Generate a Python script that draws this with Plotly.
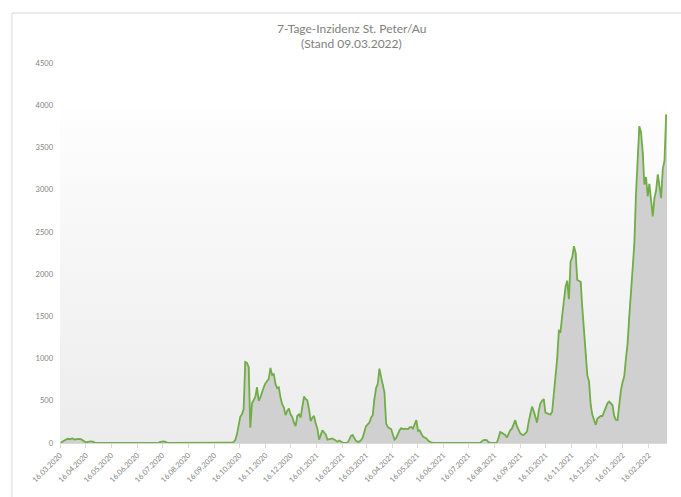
import base64
import pandas as pd
import plotly.graph_objects as go

# 7-day incidence, one value every second day starting 17.03.2020
start_date = "2020-03-17"
inzidenz = [
    5, 15, 30, 40, 50, 45, 50, 55, 42, 45, 50, 48, 45, 30, 15, 5, 12, 20, 20, 15,
    5, 0, 0, 0, 0, 0, 0, 0, 0, 0, 0, 0, 0, 0, 0, 0, 0, 0, 0, 0,
    0, 0, 0, 0, 0, 0, 0, 0, 0, 0, 0, 0, 0, 0, 0, 0, 0, 0, 0, 10,
    18, 20, 15, 5, 0, 0, 0, 0, 0, 0, 0, 0, 0, 0, 0, 0, 0, 0, 0, 0,
    0, 0, 0, 0, 0, 0, 0, 0, 0, 0, 0, 0, 0, 0, 0, 0, 0, 0, 0, 0,
    0, 0, 3, 12, 35, 100, 220, 310, 340, 400, 960, 950, 900, 180, 470, 510, 545, 660, 500, 540,
    610, 660, 706, 740, 760, 890, 805, 815, 700, 650, 660, 540, 460, 420, 330, 380, 410, 340, 310, 240,
    200, 320, 340, 300, 430, 550, 520, 505, 400, 260, 300, 320, 230, 170, 40, 110, 150, 125, 100, 40,
    45, 55, 55, 40, 25, 15, 30, 15, 5, 0, 0, 5, 40, 85, 95, 65, 25, 15, 15, 35,
    60, 130, 200, 220, 240, 300, 330, 520, 650, 700, 880, 780, 700, 600, 230, 190, 175, 165, 100, 40,
    60, 110, 150, 175, 165, 170, 168, 165, 185, 190, 170, 220, 270, 145, 150, 110, 75, 65, 55, 30,
    12, 3, 0, 0, 0, 0, 0, 0, 0, 0, 0, 0, 0, 0, 0, 0, 0, 0, 0, 0,
    0, 0, 0, 0, 0, 0, 0, 0, 0, 0, 0, 20, 35, 36, 35, 10, 0, 0, 0, 0,
    0, 60, 130, 120, 110, 95, 65, 110, 150, 170, 210, 270, 200, 150, 115, 100, 95, 115, 135, 250,
    360, 430, 380, 320, 240, 380, 470, 500, 520, 360, 350, 345, 335, 370, 560, 750, 1000, 1330, 1320, 1510,
    1660, 1850, 1920, 1700, 2150, 2200, 2330, 2250, 1930, 1920, 1910, 1600, 1350, 1050, 800, 730, 450, 330, 260, 215,
    290, 310, 320, 320, 370, 420, 470, 490, 475, 450, 320, 275, 270, 450, 620, 720, 790, 1000, 1180, 1500,
    1800, 2050, 2350, 2950, 3350, 3750, 3680, 3450, 3060, 3150, 2920, 3070, 2880, 2680, 2900, 2990, 3180, 3050, 2900, 3250,
    3340, 3890,
]
dates = pd.date_range(start_date, periods=len(inzidenz), freq="2D")

# Monthly tick marks on the 16th
tick_dates = list(pd.date_range("2020-03-16", "2022-02-16", freq=pd.DateOffset(months=1)))
tick_labels = [d.strftime("%d.%m.%Y") for d in tick_dates]

y_ticks = [0, 500, 1000, 1500, 2000, 2500, 3000, 3500, 4000, 4500]

title_lines = ["7-Tage-Inzidenz St. Peter/Au", "(Stand 09.03.2022)"]
font_family = "Lato, 'Open Sans', sans-serif"
text_grey = "#808080"

# Soft vertical gradient for the plot background
gradient_svg = (
    '<svg xmlns="http://www.w3.org/2000/svg" width="10" height="100" '
    'viewBox="0 0 10 100" preserveAspectRatio="none">'
    '<defs><linearGradient id="g" x1="0" y1="0" x2="0" y2="1">'
    '<stop offset="0" stop-color="#fefefe"/>'
    '<stop offset="1" stop-color="#ececec"/>'
    '</linearGradient></defs>'
    '<rect x="0" y="0" width="10" height="100" fill="url(#g)"/></svg>'
)
gradient_src = "data:image/svg+xml;base64," + base64.b64encode(gradient_svg.encode()).decode()

fig = go.Figure()

fig.add_trace(go.Bar(
    x=dates, y=inzidenz,
    marker=dict(color="#d0d0d0", line=dict(width=0)),
    hoverinfo="skip",
    showlegend=False,
))

fig.add_trace(go.Scatter(
    x=dates, y=inzidenz,
    mode="lines",
    line=dict(color="#70ad47", width=1.8),
    showlegend=False,
))

# Two-line chart title placed above the plot area
title_annotations = [
    dict(text=title_lines[0], xref="paper", yref="paper", x=0.481, y=1.092,
         xanchor="center", yanchor="middle", showarrow=False,
         font=dict(family=font_family, size=12, color=text_grey)),
    dict(text=title_lines[1], xref="paper", yref="paper", x=0.481, y=1.05,
         xanchor="center", yanchor="middle", showarrow=False,
         font=dict(family=font_family, size=12, color=text_grey)),
]

fig.update_layout(
    width=681, height=497,
    margin=dict(l=60, r=14, t=63, b=54),
    paper_bgcolor="white",
    plot_bgcolor="white",
    bargap=0.5,
    font=dict(family=font_family, color=text_grey),
    annotations=title_annotations,
    images=[dict(
        source=gradient_src,
        xref="paper", yref="y",
        x=0, y=4000, sizex=1, sizey=4000,
        xanchor="left", yanchor="top",
        sizing="stretch", layer="below",
    )],
    shapes=[dict(
        type="path", xref="paper", yref="paper",
        path="M -0.0792,-0.2 L -0.0792,1.1316 L 1.1,1.1316",
        line=dict(color="#d9d9d9", width=1),
    )],
)

fig.update_xaxes(
    type="date",
    range=[pd.Timestamp("2020-03-16"), pd.Timestamp("2022-03-10")],
    tickmode="array",
    tickvals=tick_dates,
    ticktext=tick_labels,
    tickangle=-45,
    tickfont=dict(size=7.5, color=text_grey),
    ticks="outside", ticklen=4, tickcolor="#d9d9d9",
    showline=True, linecolor="#d9d9d9", linewidth=1,
    showgrid=False, zeroline=False,
)

fig.update_yaxes(
    range=[0, 4500],
    tickmode="array",
    tickvals=y_ticks,
    tickfont=dict(size=7.5, color=text_grey),
    ticks="", ticklabelstandoff=6,
    showline=False, showgrid=False, zeroline=False,
)

fig.write_html("out.html")
